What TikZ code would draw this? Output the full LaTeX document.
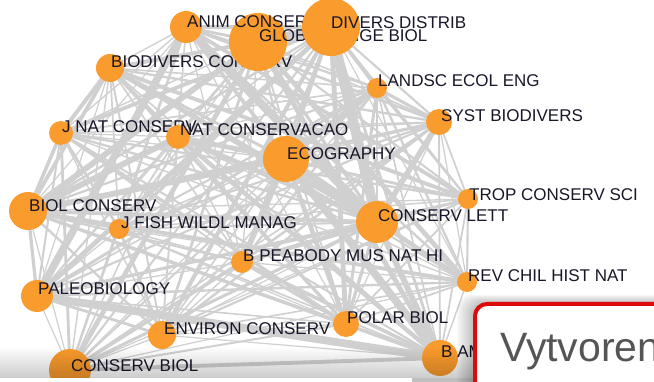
\documentclass[tikz,border=0pt]{standalone}
\usepackage{fontspec}
\setmainfont{Liberation Sans}
\pgfdeclarelayer{edges}
\pgfsetlayers{edges,main}
\definecolor{nodeor}{RGB}{249,155,45}
\definecolor{edgegr}{RGB}{208,208,208}
\definecolor{labelc}{RGB}{25,22,40}
\definecolor{boxred}{RGB}{220,10,10}
\definecolor{boxtext}{RGB}{85,85,85}
\def\nlist{biod/14,jnat/12,glob/29,anim/16,divers/28,natc/12,landsc/10,syst/13,ecog/23,trop/10,biolc/19,jfish/10,clett/21,bpea/11,revch/10,paleo/16,envir/14,polar/13,cbiol/21,bam/18}
\begin{document}
\begin{tikzpicture}[x=1pt,y=-1pt,
 jnode/.style={circle, fill=nodeor, inner sep=0pt, minimum size=#1},
 jlabel/.style={anchor=base west, inner sep=0pt, text=labelc, font=\fontsize{17}{18}\selectfont},
 edge/.style={draw=edgegr}]
\useasboundingbox (0,0) rectangle (654,382);
\clip (0,0) rectangle (654,382);
% nodes and labels
\node[jnode=28pt] (biod) at (110,68) {};
\node[jlabel] (biodL) at (111,68) {BIODIVERS CONSERV};
\node[jnode=24pt] (jnat) at (61,133) {};
\node[jlabel] (jnatL) at (62,133) {J NAT CONSERV};
\node[jnode=58pt] (glob) at (258,42) {};
\node[jlabel] (globL) at (259,42) {GLOB CHANGE BIOL};
\node[jnode=32pt] (anim) at (186,27) {};
\node[jlabel] (animL) at (187,28) {ANIM CONSERV};
\node[jnode=58pt] (divers) at (331,27) {};
\node[jlabel] (diversL) at (331,29) {DIVERS DISTRIB};
\node[jnode=24pt] (natc) at (178,137) {};
\node[jlabel] (natcL) at (180,136) {NAT CONSERVACAO};
\node[jnode=20pt] (landsc) at (377,88) {};
\node[jlabel] (landscL) at (378,87) {LANDSC ECOL ENG};
\node[jnode=26pt] (syst) at (439,122) {};
\node[jlabel] (systL) at (441,122) {SYST BIODIVERS};
\node[jnode=46pt] (ecog) at (286,159) {};
\node[jlabel] (ecogL) at (287,160) {ECOGRAPHY};
\node[jnode=20pt] (trop) at (468,199) {};
\node[jlabel] (tropL) at (469,201) {TROP CONSERV SCI};
\node[jnode=38pt] (biolc) at (28,211) {};
\node[jlabel] (biolcL) at (29,212) {BIOL CONSERV};
\node[jnode=20pt] (jfish) at (119,229) {};
\node[jlabel] (jfishL) at (121,229) {J FISH WILDL MANAG};
\node[jnode=42pt] (clett) at (377,222) {};
\node[jlabel] (clettL) at (378,222) {CONSERV LETT};
\node[jnode=22pt] (bpea) at (242,262) {};
\node[jlabel] (bpeaL) at (243,262) {B PEABODY MUS NAT HI};
\node[jnode=20pt] (revch) at (467,282) {};
\node[jlabel] (revchL) at (468,282) {REV CHIL HIST NAT};
\node[jnode=32pt] (paleo) at (37,296) {};
\node[jlabel] (paleoL) at (38,295) {PALEOBIOLOGY};
\node[jnode=28pt] (envir) at (162,335) {};
\node[jlabel] (envirL) at (164,335) {ENVIRON CONSERV};
\node[jnode=26pt] (polar) at (346,324) {};
\node[jlabel] (polarL) at (347,324) {POLAR BIOL};
\node[jnode=42pt] (cbiol) at (70,370) {};
\node[jlabel] (cbiolL) at (71,371) {CONSERV BIOL};
\node[jnode=36pt] (bam) at (440,358) {};
\node[jlabel] (bamL) at (441,358) {B AM};
% edges
\pgfmathsetseed{11}
\begin{pgfonlayer}{edges}
\foreach \a/\ra [count=\i] in \nlist {
  \foreach \b/\rb [count=\j] in \nlist {
    \ifnum\j>\i
      \pgfmathsetmacro\w{min(10,1.2+0.026*\ra*\rb*rnd*rnd)}
      \draw[edge, line width=\w pt] (\a.center) -- (\b.center);
    \fi
  }
}
\end{pgfonlayer}
% bottom shadow band
\foreach \k in {0,...,15} {
  \fill[black, opacity=0.013*\k] (0,346+2*\k) rectangle (475,348+2*\k);
}
\fill[black, opacity=0.25] (412,378) rectangle (475,382);
\fill[white] (0,378) rectangle (412,382);
% popup box shadow
\foreach \k in {1,...,9} {
  \fill[black, opacity=0.03, rounded corners=14pt] (475-2*\k,304-\k) rectangle (720,420);
}
\draw[boxred, line width=4pt, fill=white, rounded corners=12pt] (475,304) rectangle (720,420);
\node[anchor=base west, inner sep=0pt, text=boxtext, font=\fontsize{41}{44}\selectfont] (vyt) at (500,362) {Vytvoren};
\end{tikzpicture}
\end{document}
